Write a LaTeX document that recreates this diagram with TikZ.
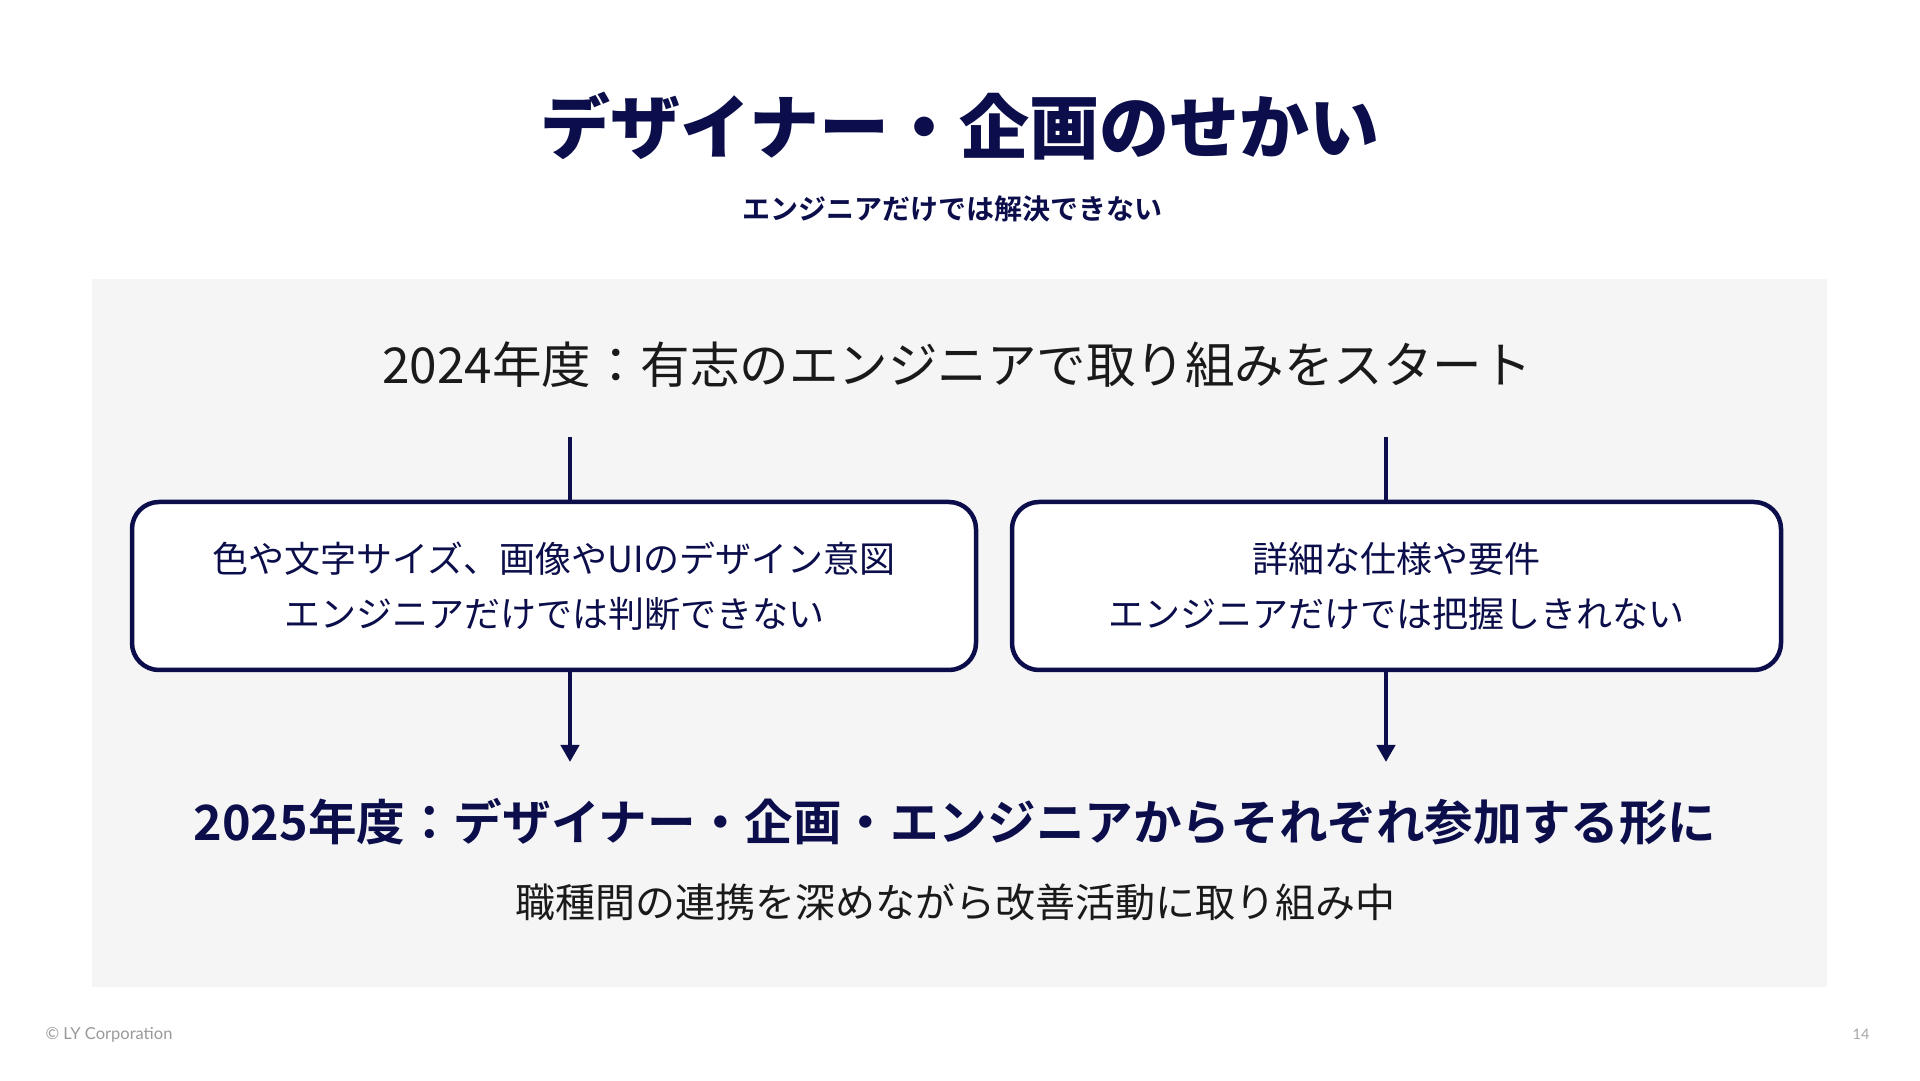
\documentclass[tikz,border=0pt]{standalone}
\usepackage{fontspec}
\setmainfont{Noto Sans CJK JP}[BoldFont={Noto Sans CJK JP Bold}]
\newfontfamily\titlefont{Noto Sans CJK JP Black}
\newfontfamily\footfont{Lato}
\usepackage{xcolor}
\usetikzlibrary{arrows.meta, positioning}

\definecolor{navy}{HTML}{0B0E4A}
\definecolor{panelgray}{HTML}{F5F5F5}
\definecolor{ink}{HTML}{1A1A1A}

\begin{document}
\begin{tikzpicture}[x=1pt, y=1pt, >={Triangle[width=18pt, length=17pt]},
  flowbox/.style={draw=navy, line width=4.5pt, rounded corners=27pt, fill=white,
    minimum height=168pt, align=center, text=navy,
    font=\fontsize{36}{55}\selectfont},
  flowline/.style={draw=navy, line width=4.5pt}]

\useasboundingbox (0,0) rectangle (1920,1080);
\fill[white] (0,0) rectangle (1920,1080);

% panel
\fill[panelgray] (92,93) rectangle (1827,801);

\def\xL{570}
\def\xR{1386}

% heading
\node[text=navy, font=\titlefont\fontsize{70}{84}\selectfont]
  (title) at (960,954) {デザイナー・企画のせかい};
\node[text=navy, font=\fontsize{28}{34}\selectfont\bfseries]
  (subtitle) at (952,871) {エンジニアだけでは解決できない};

% 2024
\node[text=ink, font=\fontsize{49.5}{60}\selectfont]
  (start) at (957,715) {2024年度：有志のエンジニアで取り組みをスタート};

\node[flowbox, minimum width=844pt] (design) at (554,494)
  {色や文字サイズ、画像やUIのデザイン意図\\エンジニアだけでは判断できない};
\node[flowbox, minimum width=769pt] (spec) at (1396.5,494)
  {詳細な仕様や要件\\エンジニアだけでは把握しきれない};

\coordinate (designIn)  at (\xL,643);
\coordinate (specIn)    at (\xR,643);
\coordinate (designOut) at (\xL,318);
\coordinate (specOut)   at (\xR,318);

\draw[flowline] (designIn) -- (designIn |- design.north);
\draw[flowline] (specIn) -- (specIn |- spec.north);
\draw[flowline, ->] (designOut |- design.south) -- (designOut);
\draw[flowline, ->] (specOut |- spec.south) -- (specOut);

% 2025
\node[text=navy, font=\fontsize{48.6}{58}\selectfont\bfseries]
  (goal) at (955,258) {2025年度：デザイナー・企画・エンジニアからそれぞれ参加する形に};
\node[text=ink, font=\fontsize{40}{48}\selectfont]
  (goalnote) at (955,178) {職種間の連携を深めながら改善活動に取り組み中};

% footer
\node[anchor=west, text=black!40, font=\footfont\fontsize{16.5}{20}\selectfont]
  (copy) at (42,45) {© LY Corporation};
\node[anchor=east, text=black!35, font=\footfont\fontsize{14.5}{17}\selectfont]
  (page) at (1873,46) {14};

\end{tikzpicture}
\end{document}
